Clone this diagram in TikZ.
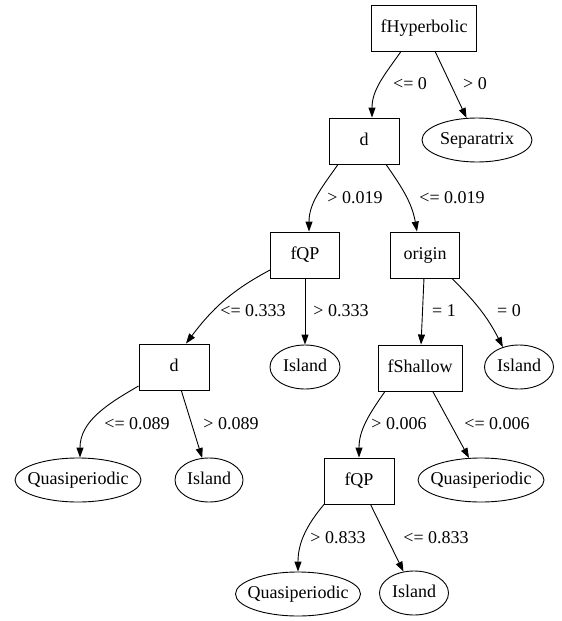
\documentclass[tikz,border=0pt]{standalone}
\usepackage{fontspec}
\setmainfont{Liberation Serif}
\usetikzlibrary{arrows.meta,shapes.geometric}

\begin{document}
\begin{tikzpicture}[x=1pt,y=-1pt,>={Triangle[length=10pt,width=7pt]},line width=0.9pt,
    font=\fontsize{18}{21}\selectfont]
  \tikzset{test/.style={draw,rectangle,inner sep=0pt,minimum height=46pt,text height=12pt,text depth=4pt},
           leaf/.style={draw,ellipse,inner sep=0pt,minimum height=44pt,text height=12pt,text depth=4pt,
             execute at begin node=\hbox to 0pt\bgroup\hss,execute at end node=\hss\egroup},
           cond/.style={inner sep=0pt,text height=12pt,text depth=0pt}}
  \useasboundingbox (0,0) rectangle (562,621);
  \node[test,minimum width=105pt] (hyp)  at (424, 28) {fHyperbolic};
  \node[test,minimum width=70pt]  (d1)   at (364,141) {d};
  \node[leaf,minimum width=110pt] (sep)  at (477,140) {Separatrix};
  \node[test,minimum width=69pt]  (qp1)  at (305,255) {fQP};
  \node[test,minimum width=69pt]  (org)  at (425,255) {origin};
  \node[test,minimum width=70pt]  (d2)   at (174,367) {d};
  \node[leaf,minimum width=70pt]  (isl1) at (305,367) {Island};
  \node[test,minimum width=84pt]  (shal) at (420,368) {fShallow};
  \node[leaf,minimum width=69pt]  (isl2) at (519,367) {Island};
  \node[leaf,minimum width=126pt] (qua1) at ( 78,480) {Quasiperiodic};
  \node[leaf,minimum width=68pt]  (isl3) at (209,480) {Island};
  \node[test,minimum width=70pt]  (qp2)  at (359,481) {fQP};
  \node[leaf,minimum width=126pt] (qua2) at (481,480) {Quasiperiodic};
  \node[leaf,minimum width=125pt] (qua3) at (298,594) {Quasiperiodic};
  \node[leaf,minimum width=69pt]  (isl4) at (414,593) {Island};
  % conditions
  \node[cond] (c1)  at (410, 83) {<= 0};
  \node[cond] (c2)  at (475, 83) {> 0};
  \node[cond] (c3)  at (355,197) {> 0.019};
  \node[cond] (c4)  at (452,197) {<= 0.019};
  \node[cond] (c5)  at (253,310) {<= 0.333};
  \node[cond] (c6)  at (341,310) {> 0.333};
  \node[cond] (c7)  at (444,310) {= 1};
  \node[cond] (c8)  at (509,310) {= 0};
  \node[cond] (c9)  at (137,423) {<= 0.089};
  \node[cond] (c10) at (231,423) {> 0.089};
  \node[cond] (c11) at (399,423) {> 0.006};
  \node[cond] (c12) at (497,423) {<= 0.006};
  \node[cond] (c13) at (338,537) {> 0.833};
  \node[cond] (c14) at (436,537) {<= 0.833};
  % branches
  \draw[->] ([xshift=-23pt]hyp.south) to[out=-125,in=90] ([xshift=8pt]d1.north);
  \draw[->] (hyp) -- (sep);
  \draw[->] ([xshift=-26pt]d1.south) to[out=-125,in=90] ([xshift=4pt]qp1.north);
  \draw[->] ([xshift=22pt]d1.south) to[out=-55,in=100] ([xshift=-8pt]org.north);
  \draw[->] ([yshift=-15pt]qp1.west) to[out=-152,in=53] ([xshift=12pt]d2.north);
  \draw[->] (qp1) -- (isl1);
  \draw[->] (org) -- (shal);
  \draw[->] ([xshift=27pt]org.south) to[out=-45,in=117] (isl2.129);
  \draw[->] ([yshift=-19pt]d2.west) to[out=-150,in=90] ([xshift=2pt]qua1.north);
  \draw[->] (d2) -- (isl3);
  \draw[->] ([xshift=-35pt]shal.south) to[out=-125,in=90] (qp2.north);
  \draw[->] (shal) -- (qua2);
  \draw[->] ([xshift=-35pt]qp2.south) to[out=-130,in=90] (qua3.north);
  \draw[->] (qp2) -- (isl4);
\end{tikzpicture}
\end{document}
